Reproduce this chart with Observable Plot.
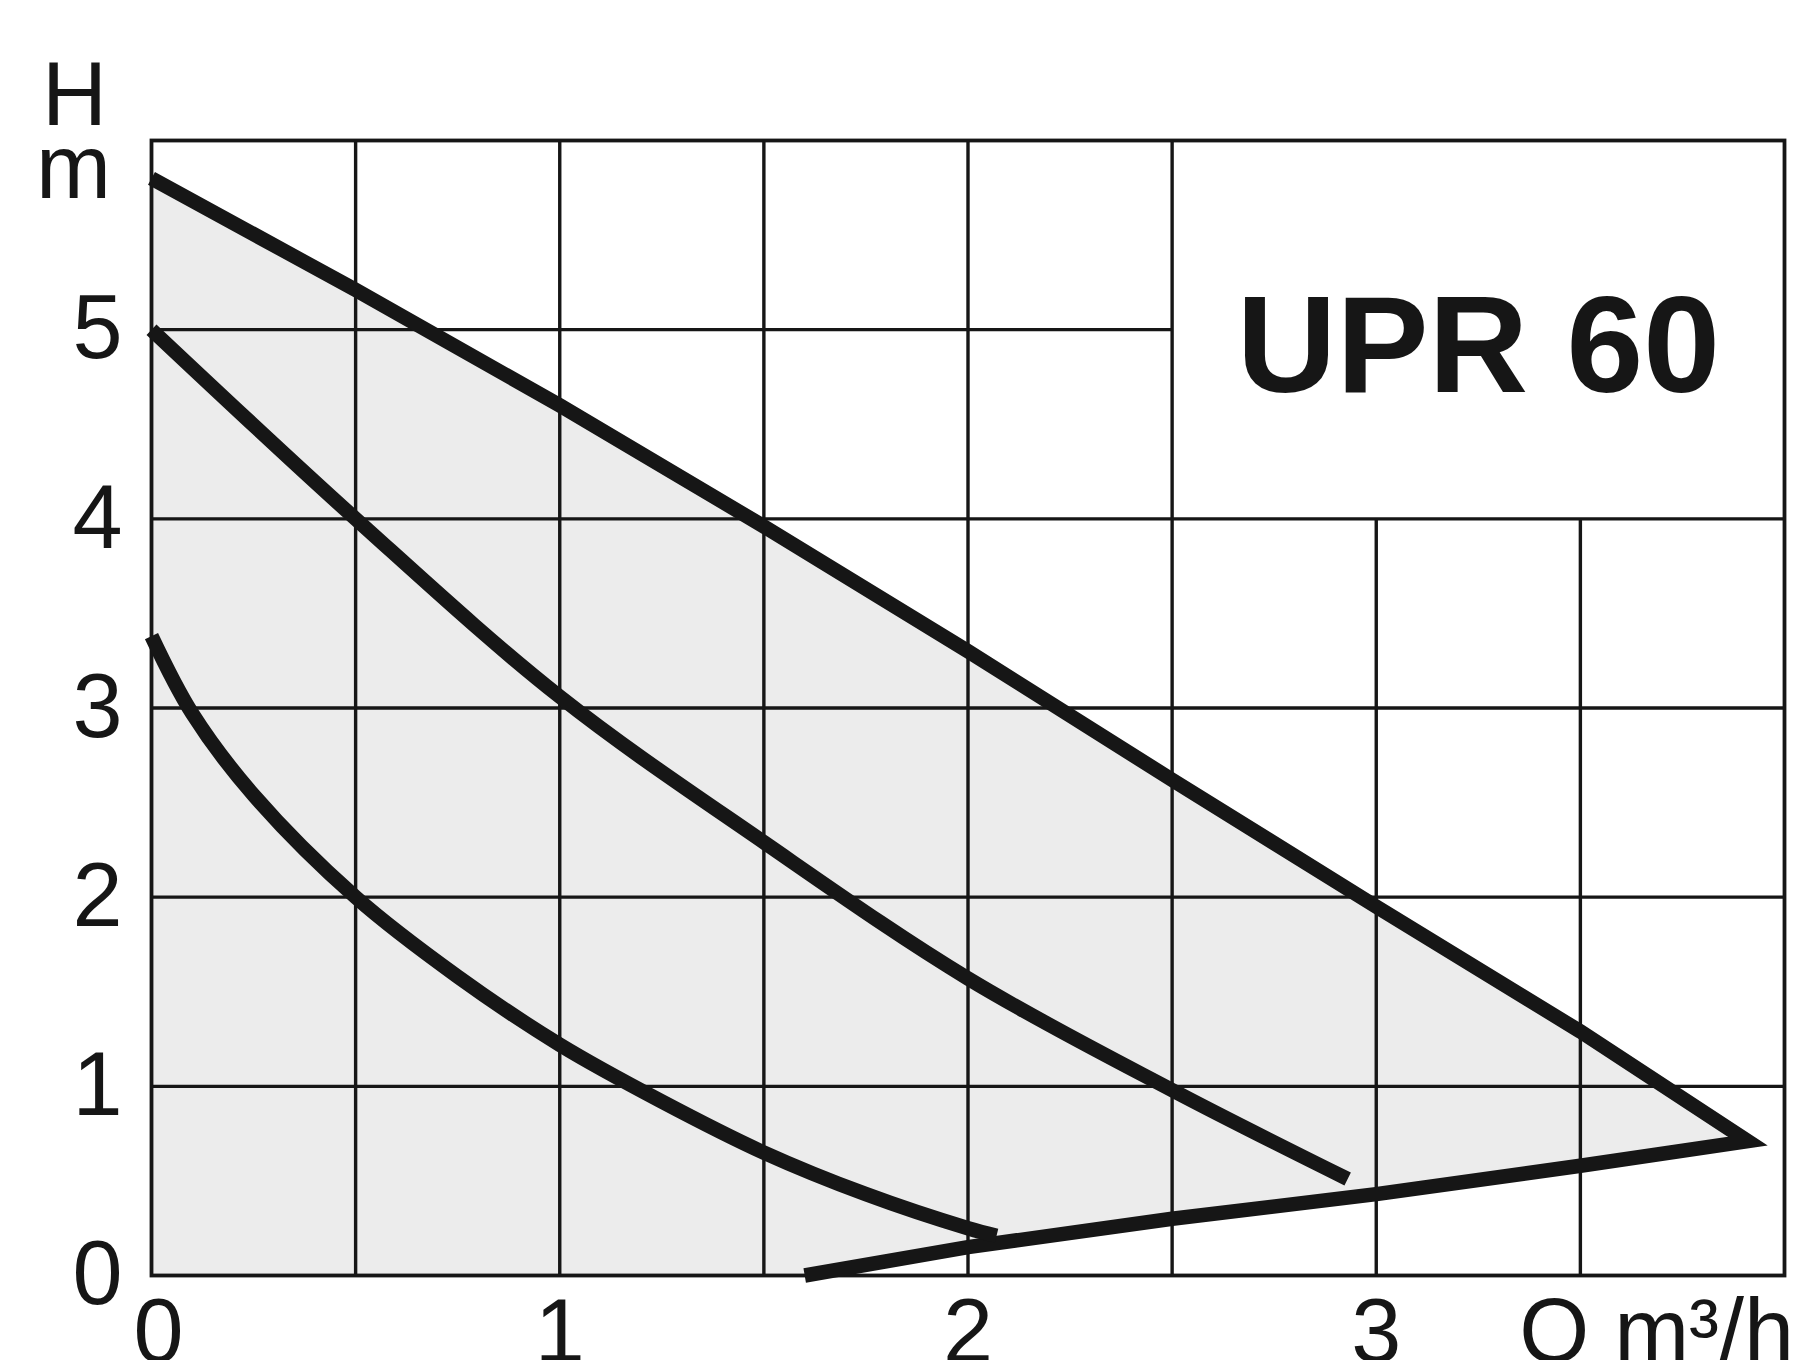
<!DOCTYPE html>
<html>
<head>
<meta charset="utf-8">
<script src="https://cdn.jsdelivr.net/npm/d3@7"></script>
<script src="https://cdn.jsdelivr.net/npm/@observablehq/plot@0.6"></script>
<style>
  html, body { margin: 0; padding: 0; background: #ffffff; }
  #chart { width: 1799px; height: 1360px; overflow: hidden; }
  #chart svg { display: block; }
</style>
</head>
<body>
<div id="chart"></div>
<script>
// ---- Data ----
const title = "UPR 60";
const xTicks = [0, 1, 2, 3];
const yTicks = [0, 1, 2, 3, 4, 5];
const xAxisLabel = "Q m³/h";
const yAxisLabelTop = "H";
const yAxisLabelUnit = "m";

// grid layout
const vGridFull = [0.5, 1, 1.5, 2, 2.5];
const vGridLower = [3, 3.5];
const hGridFull = [1, 2, 3, 4];
const hGridLeft = [5];
const titleBoxX = [2.5, 4];
const titleBoxY = [4, 6];

// Max speed curve (speed 3)
const maxQ = [0, 0.5, 1.0, 1.5, 2.0, 2.5, 3.0, 3.5, 3.91];
const maxH = [5.80, 5.21, 4.60, 3.96, 3.30, 2.62, 1.95, 1.29, 0.71];
// Lower limit line back from the tip
const limitQ = [3.91, 3.5, 3.0, 2.5, 2.0, 1.6];
const limitH = [0.71, 0.58, 0.43, 0.30, 0.15, 0.0];
// Middle speed curve (speed 2)
const midQ = [0, 0.5, 1.0, 1.5, 2.0, 2.5, 2.93];
const midH = [5.00, 4.00, 3.06, 2.29, 1.57, 0.98, 0.51];
// Low speed curve (speed 1)
const lowQ = [0, 0.1, 0.25, 0.5, 0.75, 1.0, 1.25, 1.5, 1.75, 2.0, 2.07];
const lowH = [3.38, 2.97, 2.54, 2.00, 1.58, 1.22, 0.92, 0.65, 0.43, 0.25, 0.21];

// ---- Build tables ----
const toPts = (q, h) => q.map((v, i) => ({q: v, h: h[i]}));
const maxCurve = toPts(maxQ, maxH);
const limitLine = toPts(limitQ, limitH);
const outline = [...maxCurve, ...limitLine.slice(1)];
const envelope = [{q: maxQ[0], h: limitH[limitH.length - 1]}, ...outline];
const midCurve = toPts(midQ, midH);
const lowCurve = toPts(lowQ, lowH);

const ink = "#161616";
const gridW = 3.4;
const curveW = 14.5;
const font = "'Liberation Sans', Arial, Helvetica, sans-serif";

const lineStyle = {
  x: "q", y: "h", stroke: ink, strokeWidth: curveW,
  strokeLinecap: "butt", strokeLinejoin: "miter", strokeMiterlimit: 10
};

const chart = Plot.plot({
  width: 1799,
  height: 1360,
  marginLeft: 151,
  marginRight: 15,
  marginTop: 140,
  marginBottom: 85,
  x: {domain: [0, 4], label: null},
  y: {domain: [0, 6], label: null},
  style: {background: "#ffffff", fontFamily: font, color: ink, overflow: "visible"},
  marks: [
    // shaded operating area
    Plot.line(envelope, {x: "q", y: "h", fill: "#ececec", stroke: "none", curve: "linear"}),
    // grid
    Plot.ruleX(vGridFull, {stroke: ink, strokeWidth: gridW}),
    Plot.ruleX(vGridLower, {y1: titleBoxY[0] - 4, y2: titleBoxY[0], stroke: ink, strokeWidth: gridW}),
    Plot.ruleY(hGridFull, {stroke: ink, strokeWidth: gridW}),
    Plot.ruleY(hGridLeft, {x1: 0, x2: titleBoxX[0], stroke: ink, strokeWidth: gridW}),
    Plot.frame({stroke: ink, strokeWidth: 3.8}),
    // curves
    Plot.line(outline, {...lineStyle, curve: "linear"}),
    Plot.line(midCurve, {...lineStyle, curve: "catmull-rom"}),
    Plot.line(lowCurve, {...lineStyle, curve: "catmull-rom"}),
    // axes
    Plot.axisY({ticks: yTicks, tickSize: 0, tickPadding: 29, fontSize: 90, label: null, tickFormat: d => String(d), fill: ink}),
    Plot.axisX({ticks: xTicks.slice(0, 1), tickSize: 0, tickPadding: 23, fontSize: 90, dx: 7, label: null, tickFormat: d => String(d), fill: ink}),
    Plot.axisX({ticks: xTicks.slice(1), tickSize: 0, tickPadding: 23, fontSize: 90, label: null, tickFormat: d => String(d), fill: ink}),
    // axis titles
    Plot.text([xAxisLabel], {x: 3.35, y: 0, text: d => d, textAnchor: "start", lineAnchor: "top", dy: 23, fontSize: 90, fill: ink, fontFamily: font}),
    Plot.text([yAxisLabelTop], {x: 0, y: 6, text: d => d, textAnchor: "middle", lineAnchor: "middle", dx: -77, dy: -44, fontSize: 90, fill: ink, fontFamily: font}),
    Plot.text([yAxisLabelUnit], {x: 0, y: 6, text: d => d, textAnchor: "middle", lineAnchor: "middle", dx: -78, dy: 29, fontSize: 90, fill: ink, fontFamily: font}),
    // model title
    Plot.text([title], {x: (titleBoxX[0] + titleBoxX[1]) / 2, y: (titleBoxY[0] + titleBoxY[1]) / 2, text: d => d, textAnchor: "middle", lineAnchor: "middle", dy: 18, fontSize: 138, fontWeight: "bold", fill: ink, fontFamily: font})
  ]
});

document.getElementById("chart").appendChild(chart);
</script>
</body>
</html>
